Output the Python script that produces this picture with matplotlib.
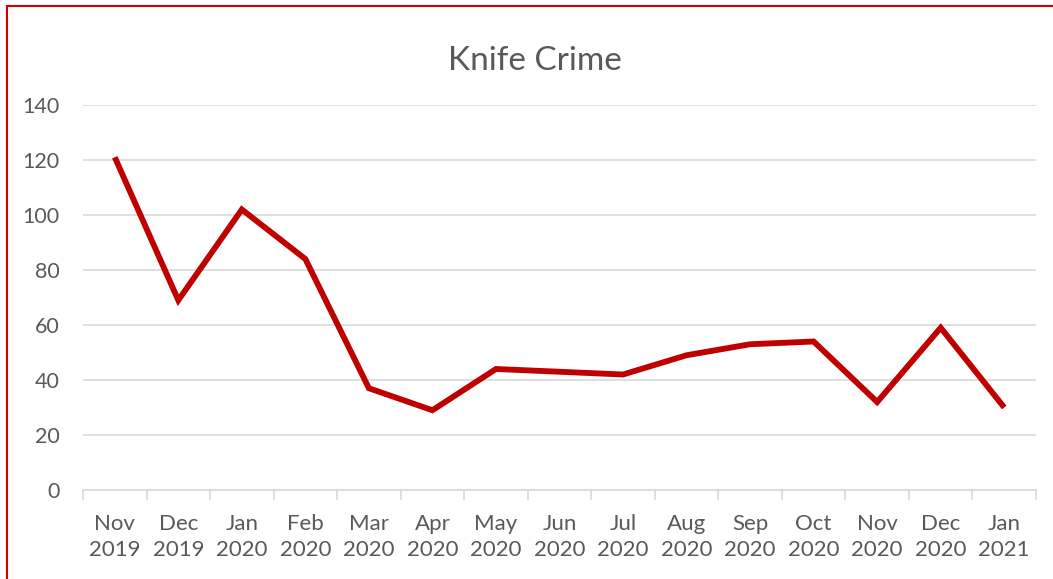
import numpy as np
import matplotlib.pyplot as plt
from matplotlib.patches import Rectangle

months = ["Nov\n2019", "Dec\n2019", "Jan\n2020", "Feb\n2020", "Mar\n2020",
          "Apr\n2020", "May\n2020", "Jun\n2020", "Jul\n2020", "Aug\n2020",
          "Sep\n2020", "Oct\n2020", "Nov\n2020", "Dec\n2020", "Jan\n2021"]
knife_crime = [121, 69, 102, 84, 37, 29, 44, 43, 42, 49, 53, 54, 32, 59, 30]
y_ticks = [0, 20, 40, 60, 80, 100, 120, 140]

plt.rcParams['font.family'] = ['Lato', 'DejaVu Sans']
grey = "#595959"

fig = plt.figure(figsize=(10.53, 5.79), dpi=100)
ax = fig.add_axes([83 / 1053, 1 - 490 / 579, (1036 - 83) / 1053, (490 - 105) / 579])

x = np.arange(len(months))
ax.plot(x, knife_crime, color="#C00000", lw=4.2, solid_joinstyle="miter",
        solid_capstyle="butt", zorder=3)

ax.set_xlim(-0.5, len(months) - 0.5)
ax.set_ylim(0, 140)
ax.set_yticks(y_ticks)
ax.set_xticks(x)
ax.set_xticklabels(months)
ax.set_xticks(np.arange(-0.5, len(months)), minor=True)
ax.tick_params(axis="x", which="major", length=0, pad=17, labelsize=16, colors=grey)
ax.tick_params(axis="x", which="minor", length=7, width=1.2, color="#D9D9D9")
ax.tick_params(axis="y", length=0, pad=17, labelsize=15.5, colors=grey)
for lbl in ax.get_xticklabels():
    lbl.set_linespacing(1.4)

ax.grid(axis="y", color="#D9D9D9", lw=1.2)
ax.set_axisbelow(True)
for side in ["left", "right", "top"]:
    ax.spines[side].set_visible(False)
ax.spines["bottom"].set_color("#D9D9D9")
ax.spines["bottom"].set_linewidth(1.2)

fig.text(0.508, 1 - 61 / 579, "Knife Crime", ha="center", va="center",
         fontsize=24, color=grey)

# chart frame, running off the right and bottom edges
fig.patches.append(Rectangle((6.5 / 1053, -0.1), 1.2, 1 - 5.5 / 579 + 0.1,
                             transform=fig.transFigure, fill=False,
                             edgecolor="#D00000", lw=1.5))

fig.savefig("out.png", dpi=100)
